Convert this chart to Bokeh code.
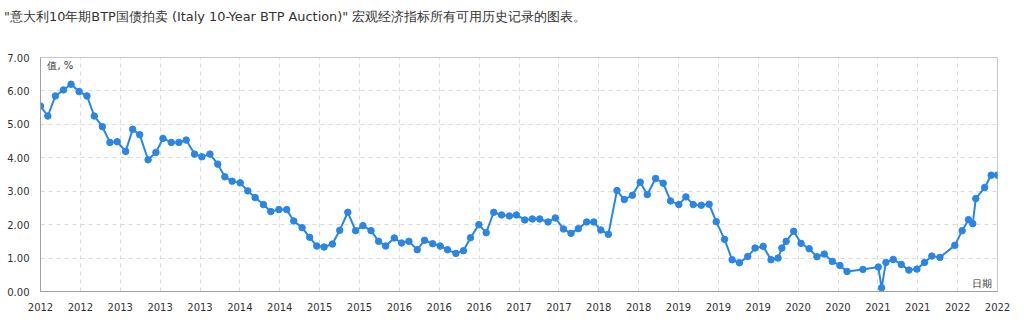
import numpy as np
import pandas as pd
from bokeh.plotting import figure
from bokeh.layouts import column
from bokeh.models import (Range1d, FixedTicker, DatetimeTickFormatter,
                          NumeralTickFormatter, Label, Div)
from bokeh.embed import file_html
from bokeh.resources import INLINE

title_text = '"意大利10年期BTP国债拍卖 (Italy 10-Year BTP Auction)" 宏观经济指标所有可用历史记录的图表。'
y_label = "值, %"
x_label = "日期"

dates = [
    "2012-02-28", "2012-03-28", "2012-04-27", "2012-05-29", "2012-06-28", "2012-07-30",
    "2012-08-30", "2012-09-28", "2012-10-30", "2012-11-29", "2012-12-28", "2013-01-30",
    "2013-02-27", "2013-03-27", "2013-04-29", "2013-05-30", "2013-06-27", "2013-07-30",
    "2013-08-29", "2013-09-27", "2013-10-30", "2013-11-28", "2013-12-30", "2014-01-30",
    "2014-02-27", "2014-03-28", "2014-04-29", "2014-05-29", "2014-06-27", "2014-07-30",
    "2014-08-28", "2014-09-29", "2014-10-30", "2014-11-27", "2014-12-30", "2015-01-29",
    "2015-02-26", "2015-03-27", "2015-04-29", "2015-05-28", "2015-06-29", "2015-07-30",
    "2015-08-28", "2015-09-29", "2015-10-29", "2015-11-26", "2015-12-30", "2016-01-28",
    "2016-02-26", "2016-03-30", "2016-04-28", "2016-05-30", "2016-06-29", "2016-07-28",
    "2016-08-30", "2016-09-29", "2016-10-27", "2016-11-29", "2016-12-28", "2017-01-27",
    "2017-02-27", "2017-03-30", "2017-04-27", "2017-05-30", "2017-06-29", "2017-07-28",
    "2017-08-30", "2017-09-28", "2017-10-30", "2017-11-29", "2017-12-28", "2018-01-30",
    "2018-02-27", "2018-03-27", "2018-04-26", "2018-05-30", "2018-06-28", "2018-07-30",
    "2018-08-30", "2018-09-27", "2018-10-30", "2018-11-29", "2018-12-28", "2019-01-30",
    "2019-02-27", "2019-03-28", "2019-04-29", "2019-05-30", "2019-06-27", "2019-07-30",
    "2019-08-29", "2019-09-27", "2019-10-30", "2019-11-28", "2019-12-30", "2020-01-30",
    "2020-02-27", "2020-03-13", "2020-03-30", "2020-04-29", "2020-05-28", "2020-06-29",
    "2020-07-30", "2020-08-28", "2020-09-29", "2020-10-29", "2020-11-26", "2021-01-28",
    "2021-03-30", "2021-04-12", "2021-04-29", "2021-05-28", "2021-06-29", "2021-07-29",
    "2021-08-30", "2021-09-29", "2021-10-28", "2021-11-29", "2022-01-27", "2022-02-25",
    "2022-03-22", "2022-04-08", "2022-04-20", "2022-05-25", "2022-06-20", "2022-07-15",
]

values = [
    5.55, 5.25, 5.85, 6.03, 6.20, 5.98,
    5.85, 5.25, 4.93, 4.46, 4.48, 4.19,
    4.85, 4.69, 3.94, 4.16, 4.58, 4.46,
    4.46, 4.53, 4.11, 4.03, 4.11, 3.81,
    3.43, 3.30, 3.25, 3.01, 2.81, 2.60,
    2.39, 2.45, 2.45, 2.11, 1.91, 1.62,
    1.36, 1.33, 1.42, 1.83, 2.37, 1.82,
    1.97, 1.82, 1.50, 1.36, 1.60, 1.45,
    1.50, 1.25, 1.53, 1.43, 1.36, 1.25,
    1.14, 1.22, 1.61, 2.00, 1.76, 2.37,
    2.29, 2.26, 2.29, 2.14, 2.17, 2.17,
    2.08, 2.20, 1.87, 1.74, 1.88, 2.08,
    2.08, 1.84, 1.71, 3.02, 2.75, 2.88,
    3.27, 2.90, 3.38, 3.24, 2.71, 2.60,
    2.83, 2.60, 2.58, 2.61, 2.09, 1.56,
    0.95, 0.86, 1.05, 1.30, 1.35, 0.95,
    1.00, 1.30, 1.50, 1.80, 1.44, 1.28,
    1.04, 1.12, 0.90, 0.78, 0.60, 0.66,
    0.73, 0.11, 0.87, 0.96, 0.81, 0.64,
    0.67, 0.87, 1.06, 1.02, 1.38, 1.82,
    2.15, 2.03, 2.78, 3.11, 3.48, 3.48,
]

y_ticks = [0, 1, 2, 3, 4, 5, 6, 7]
n_x_ticks = 25

x = pd.to_datetime(dates)
x_start = x[0]
x_end = x[-1]

LINE = "#2a86e6"
FONT = "DejaVu Sans"

header = Div(text=title_text, width=1024, height=34, margin=0,
             styles={"font-family": FONT, "font-size": "12.9px",
                     "color": "#333333", "line-height": "34px",
                     "padding-left": "4px", "white-space": "nowrap"})

p = figure(width=1024, height=290, x_axis_type="datetime",
           output_backend="svg", toolbar_location=None,
           x_range=Range1d(x_start, x_end), y_range=Range1d(0, 7),
           min_border_left=40, min_border_right=27,
           min_border_top=23, min_border_bottom=33, margin=0)

p.background_fill_color = "white"
p.border_fill_color = "white"
p.outline_line_color = "#c8c8c8"
p.outline_line_width = 1

start_ms = x_start.value / 1e6
end_ms = x_end.value / 1e6
span_ms = end_ms - start_ms
FRAME_W = 957.5   # frame width in px

p.xaxis.ticker = FixedTicker(ticks=list(np.linspace(start_ms, end_ms, n_x_ticks)))
fmt = "%Y"
p.xaxis.formatter = DatetimeTickFormatter(
    microseconds=fmt, milliseconds=fmt, seconds=fmt, minsec=fmt, minutes=fmt,
    hourmin=fmt, hours=fmt, days=fmt, months=fmt, years=fmt)
p.yaxis.ticker = FixedTicker(ticks=y_ticks)
p.yaxis.formatter = NumeralTickFormatter(format="0.00")

for ax in (p.xaxis, p.yaxis):
    ax.axis_line_color = "#a0a0a0"
    ax.major_tick_line_color = None
    ax.minor_tick_line_color = None
    ax.major_label_text_font = FONT
    ax.major_label_text_font_size = "10px"
    ax.major_label_text_color = "#333333"
p.xaxis.major_label_standoff = 5
p.yaxis.major_label_standoff = 5

p.xgrid.grid_line_color = "#d9d9d9"
p.ygrid.grid_line_color = "#d9d9d9"
p.xgrid.grid_line_dash = "4 4"
p.ygrid.grid_line_dash = "4 4"

p.line(x, values, line_color=LINE, line_width=2)
p.scatter(x, values, size=6.5, fill_color=LINE, line_color=LINE)

p.add_layout(Label(x=start_ms + span_ms * 7 / FRAME_W, y=6.75, text=y_label,
                   text_font=FONT, text_font_size="10px", text_color="#333333",
                   text_baseline="middle", text_align="left"))
p.add_layout(Label(x=end_ms - span_ms * 6 / FRAME_W, y=0.23, text=x_label,
                   text_font=FONT, text_font_size="10px", text_color="#333333",
                   text_baseline="middle", text_align="right"))

layout = column(header, p, spacing=0, margin=0)

open("out.html", "w").write(file_html(layout, INLINE))
